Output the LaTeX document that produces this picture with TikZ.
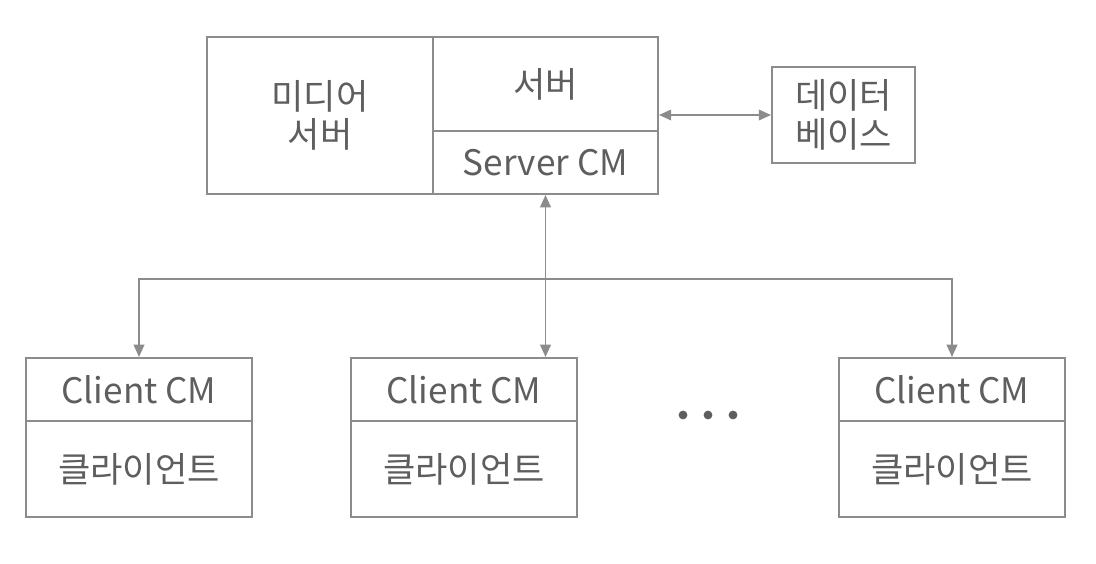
\documentclass[tikz,border=0pt]{standalone}
\usepackage{fontspec}
\setmainfont{Noto Sans CJK KR}
\usetikzlibrary{arrows.meta}
\definecolor{linegray}{HTML}{8C8C8C}
\definecolor{textgray}{HTML}{5E5E5E}
\tikzset{
  box/.style={draw=linegray,line width=1.1pt,text=textgray,inner sep=0pt,
    font=\fontsize{20}{22}\selectfont,align=center},
  link/.style={draw=linegray,line width=1.1pt,{Triangle[length=7pt,width=6pt]}-{Triangle[length=7pt,width=6pt]}},
  feed/.style={draw=linegray,line width=1.1pt,-{Triangle[length=7pt,width=6pt]}},
  dot/.style={circle,fill=textgray,inner sep=0pt,minimum size=5pt}
}
\begin{document}
\begin{tikzpicture}[x=0.02cm,y=-0.02cm]
\useasboundingbox (0,0) rectangle (1096,564);
% server side
\node[box,minimum width=4.52cm,minimum height=3.14cm] (media) at (320,115.5) {미디어\\서버};
\node[box,minimum width=4.5cm,minimum height=1.88cm] (srv) at (545.5,84) {서버};
\node[box,minimum width=4.5cm,minimum height=1.26cm] (srvcm) at (545.5,162.5) {Server CM};
\node[box,minimum width=2.86cm,minimum height=1.92cm] (db) at (843.5,115) {데이터\\베이스};
% clients
\node[box,minimum width=4.52cm,minimum height=1.26cm] (cm1) at (139,389.5) {Client CM};
\node[box,minimum width=4.52cm,minimum height=1.92cm] (cl1) at (139,469) {클라이언트};
\node[box,minimum width=4.52cm,minimum height=1.26cm] (cm2) at (464,389.5) {Client CM};
\node[box,minimum width=4.52cm,minimum height=1.92cm] (cl2) at (464,469) {클라이언트};
\node[box,minimum width=4.52cm,minimum height=1.26cm] (cm3) at (952,389.5) {Client CM};
\node[box,minimum width=4.52cm,minimum height=1.92cm] (cl3) at (952,469) {클라이언트};
\node[dot] (d1) at (683,415) {};
\node[dot] (d2) at (708,415) {};
\node[dot] (d3) at (733,415) {};
% connectors
\coordinate (bus) at (546,279);
\draw[link] (db.west -| srv.east) -- (db.west);
\draw[link] (srvcm.south) -- (srvcm.south |- cm2.north);
\draw[feed] (bus) -| (cm1.north);
\draw[feed] (bus) -| (cm3.north);
\end{tikzpicture}
\end{document}
